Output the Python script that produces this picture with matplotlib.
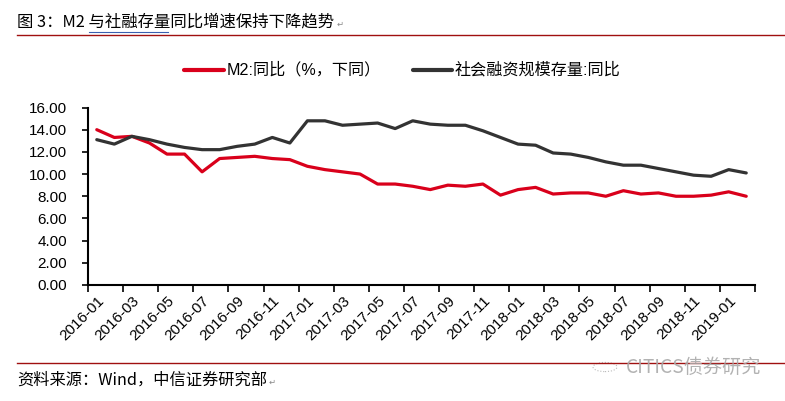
import matplotlib
matplotlib.use("Agg")
import matplotlib.pyplot as plt
from matplotlib.lines import Line2D
import numpy as np

plt.rcParams['font.family'] = ['Liberation Sans', 'Noto Sans CJK SC', 'DejaVu Sans']

months = [f"{y}-{m:02d}" for y in (2016, 2017, 2018) for m in range(1, 13)] + ["2019-01", "2019-02"]

m2_yoy = [14.0, 13.3, 13.4, 12.8, 11.8, 11.8, 10.2, 11.4, 11.5, 11.6, 11.4, 11.3,
          10.7, 10.4, 10.2, 10.0, 9.1, 9.1, 8.9, 8.6, 9.0, 8.9, 9.1, 8.1,
          8.6, 8.8, 8.2, 8.3, 8.3, 8.0, 8.5, 8.2, 8.3, 8.0, 8.0, 8.1,
          8.4, 8.0]
tsf_yoy = [13.1, 12.7, 13.4, 13.1, 12.7, 12.4, 12.2, 12.2, 12.5, 12.7, 13.3, 12.8,
           14.8, 14.8, 14.4, 14.5, 14.6, 14.1, 14.8, 14.5, 14.4, 14.4, 13.9, 13.3,
           12.7, 12.6, 11.9, 11.8, 11.5, 11.1, 10.8, 10.8, 10.5, 10.2, 9.9, 9.8,
           10.4, 10.1]

series_names = ["M2:同比（%，下同）", "社会融资规模存量:同比"]
title = "图 3：M2 与社融存量同比增速保持下降趋势"
source = "资料来源：Wind，中信证券研究部"
watermark = "CITICS债券研究"

red = '#D9001B'
dark = '#333333'

W, H = 785, 401
fig = plt.figure(figsize=(W / 100, H / 100), dpi=100)

def fx(px):
    return px / W

def fy(py):
    return 1 - py / H

ax = fig.add_axes([fx(88), fy(285), fx(755) - fx(88), fy(107.5) - fy(285)])
x = np.arange(len(months))
ax.plot(x, m2_yoy, color=red, lw=2.3, solid_capstyle='round', solid_joinstyle='round')
ax.plot(x, tsf_yoy, color=dark, lw=2.3, solid_capstyle='round', solid_joinstyle='round')

ax.set_xlim(-0.5, len(months) - 0.5)
ax.set_ylim(0, 16)
ax.set_yticks(np.arange(0, 16.01, 2))
ax.set_yticklabels([f"{v:.2f}" for v in np.arange(0, 16.01, 2)], fontsize=11)

# tick marks at category boundaries every 2 months, labels at categories
ax.set_xticks(np.arange(-0.5, len(months), 2))
ax.set_xticklabels([])
ax.set_xticks(x[::2], minor=True)
ax.set_xticklabels(months[::2], minor=True, rotation=45, ha='right', va='top',
                   rotation_mode='anchor', fontsize=11)
ax.tick_params(axis='x', which='major', direction='out', length=5, width=1.2)
ax.tick_params(axis='x', which='minor', length=0, pad=6)
ax.tick_params(axis='y', direction='out', length=4, width=1.2, pad=11)

for s in ['top', 'right']:
    ax.spines[s].set_visible(False)
for s in ['left', 'bottom']:
    ax.spines[s].set_linewidth(1.5)
    ax.spines[s].set_color('black')

# legend (manual placement)
fig.add_artist(Line2D([fx(184), fx(224)], [fy(70), fy(70)], color=red, lw=3, solid_capstyle='round'))
fig.text(fx(227), fy(70), series_names[0], fontsize=11.6, va='center', ha='left')
fig.add_artist(Line2D([fx(413), fx(452)], [fy(70), fy(70)], color=dark, lw=3, solid_capstyle='round'))
fig.text(fx(455), fy(70), series_names[1], fontsize=11.6, va='center', ha='left')

# title and rules
t_title = fig.text(fx(17), fy(22), title, fontsize=11.8, va='center', ha='left',
                   family=['Noto Sans CJK SC', 'DejaVu Sans'])
fig.add_artist(Line2D([fx(89), fx(168)], [fy(31.5), fy(31.5)], color='#3A5FB0', lw=0.8))
fig.add_artist(Line2D([fx(17), fx(785)], [fy(34.5), fy(34.5)], color='#A01010', lw=1.0))

fig.add_artist(Line2D([fx(17), fx(785)], [fy(362.5), fy(362.5)], color='#A01010', lw=1.0))
t_src = fig.text(fx(17), fy(380), source, fontsize=11.7, va='center', ha='left',
                 family=['Noto Sans CJK SC', 'DejaVu Sans'])

# paragraph marks right after the texts
fig.canvas.draw()
r = fig.canvas.get_renderer()
e1 = t_title.get_window_extent(r)
e2 = t_src.get_window_extent(r)
fig.text((e1.x1 + 2) / W, fy(24), "↵", fontsize=6, color='#888888', va='center', ha='left',
         family=['DejaVu Sans'])
fig.text((e2.x1 + 2) / W, fy(382), "↵", fontsize=6, color='#888888', va='center', ha='left',
         family=['DejaVu Sans'])

# watermark
fig.text(fx(626), fy(367), watermark, fontsize=13.8, va='center', ha='left', color='#AAAAAA',
         family=['Noto Sans CJK SC', 'DejaVu Sans'], alpha=0.9)
fig.patches.append(matplotlib.patches.Ellipse((fx(605), fy(367)), fx(24), fx(18),
                                              transform=fig.transFigure, fill=False,
                                              ec='#BBBBBB', lw=0.8, ls=':'))

fig.savefig("out.png", dpi=100)
